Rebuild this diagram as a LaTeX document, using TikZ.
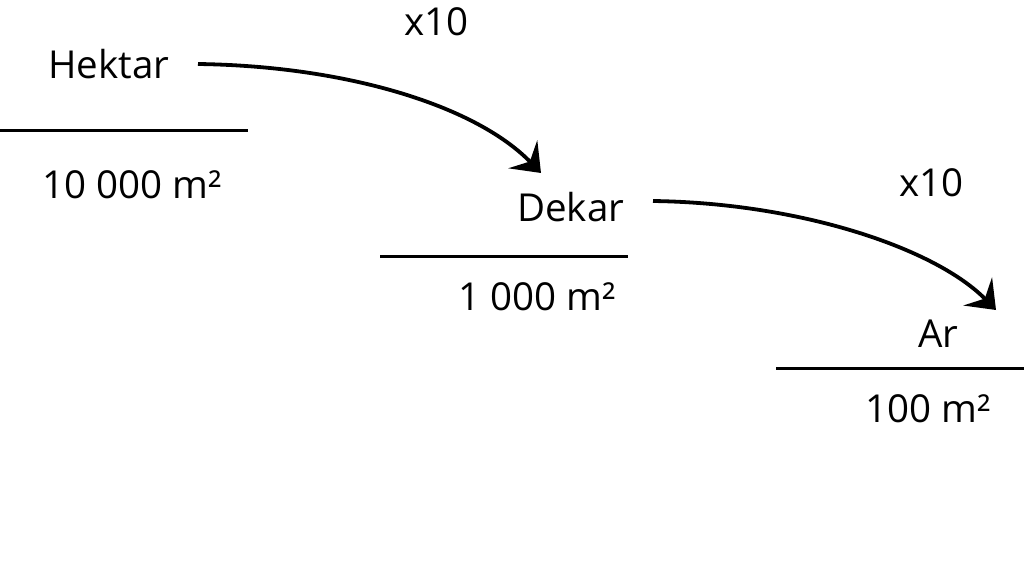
\documentclass[tikz,border=0pt]{standalone}
\usepackage{fontspec}
\setmainfont{Open Sans}
\usetikzlibrary{arrows.meta}
\begin{document}
\begin{tikzpicture}[x=1pt,y=-1pt,
  lbl/.style={anchor=base west,inner sep=0pt,font=\fontsize{38.5}{40}\selectfont},
  rule/.style={line width=3pt},
  conv/.style={line width=3.8pt,-{Stealth[length=26pt,width=40pt,inset=10pt]}}]
\useasboundingbox[fill=white] (0,0) rectangle (1024,576);
% labels
\node[lbl] (hektar) at (48,78) {Hektar};
\node[lbl] (hektarval) at (42,198) {10 000 m²};
\node[lbl] (f1) at (404,35) {x10};
\node[lbl] (dekar) at (517,221) {Dekar};
\node[lbl] (dekarval) at (458,310) {1 000 m²};
\node[lbl] (f2) at (899,196) {x10};
\node[lbl] (ar) at (918,347) {Ar};
\node[lbl] (arval) at (865,422) {100 m²};
% rules
\draw[rule] (0,130) -- (248,130);
\draw[rule] (380,256) -- (628,256);
\draw[rule] (776,368) -- (1024,368);
% arrows
\coordinate (s1) at (198,64);
\coordinate (t1) at (541,173);
\coordinate (s2) at (653,201);
\coordinate (t2) at (996,310);
\draw[conv] (s1) .. controls (345,66) and (475,105) .. (t1);
\draw[conv] (s2) .. controls (800,203) and (935,248) .. (t2);
\end{tikzpicture}
\end{document}
